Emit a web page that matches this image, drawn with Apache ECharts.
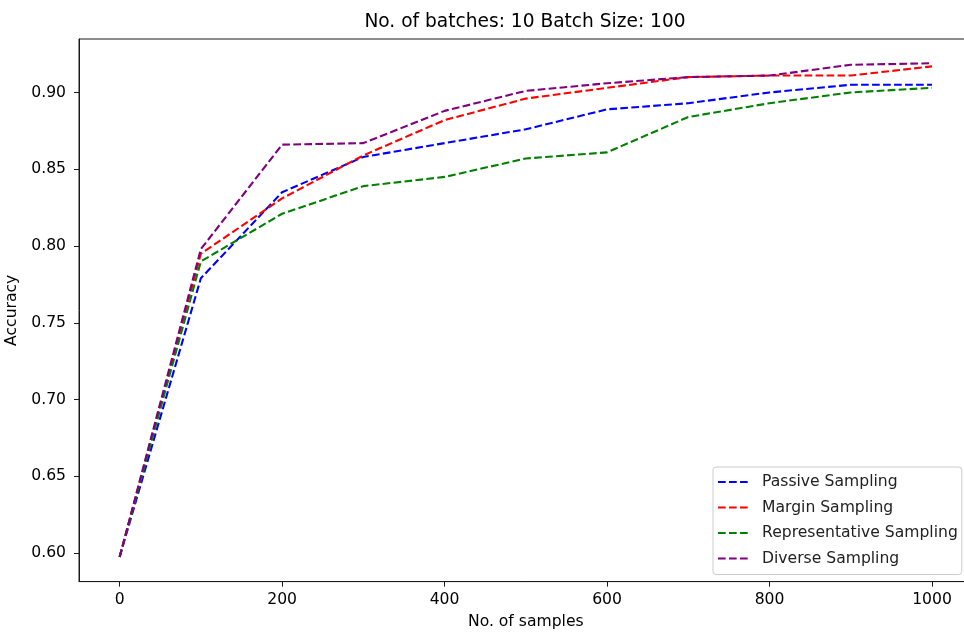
<!DOCTYPE html>
<html>
<head>
<meta charset="utf-8">
<script src="https://cdn.jsdelivr.net/npm/echarts@6/dist/echarts.min.js"></script>
<style>
  html, body { margin: 0; padding: 0; background: #fff; overflow: hidden; }
  /* canvas is a little wider than the window so the right spine sits just past the edge */
  #chart { width: 990px; height: 637px; }
</style>
</head>
<body>
<div id="chart"></div>
<script>
// Number of labelled samples after each batch
const samples = [0, 100, 200, 300, 400, 500, 600, 700, 800, 900, 1000];

// Accuracy per sampling strategy
const passive        = [0.5975, 0.779, 0.835, 0.858, 0.867, 0.876, 0.889, 0.893, 0.900, 0.905, 0.905];
const margin         = [0.5975, 0.795, 0.831, 0.859, 0.882, 0.896, 0.903, 0.910, 0.911, 0.911, 0.917];
const representative = [0.5975, 0.790, 0.821, 0.839, 0.845, 0.857, 0.861, 0.884, 0.893, 0.900, 0.903];
const diverse        = [0.5975, 0.798, 0.866, 0.867, 0.888, 0.901, 0.906, 0.910, 0.911, 0.918, 0.919];

const seriesNames = ['Passive Sampling', 'Margin Sampling', 'Representative Sampling', 'Diverse Sampling'];

// Tick labels
const xTicks = [0, 200, 400, 600, 800, 1000];
const yTicks = [0.60, 0.65, 0.70, 0.75, 0.80, 0.85, 0.90];

const FONT = 'DejaVu Sans';
const FS = 15.6;
const SPINE = '#1a1a1a';
const colors = ['#0000ff', '#ff0000', '#008000', '#800080'];

function pairs(ys) { return samples.map((x, i) => [x, ys[i]]); }

function lineSeries(name, ys, color) {
  return {
    name: name,
    type: 'line',
    data: pairs(ys),
    symbol: 'none',
    showSymbol: false,
    color: color,
    lineStyle: { color: color, width: 2.1, type: [7.7, 3.3], cap: 'butt' },
    emphasis: { disabled: true }
  };
}

const chart = echarts.init(document.getElementById('chart'), null, { renderer: 'canvas' });

chart.setOption({
  animation: false,
  backgroundColor: '#ffffff',
  title: {
    text: 'No. of batches: 10 Batch Size: 100',
    left: 520,
    textAlign: 'center',
    top: 8,
    textStyle: { fontFamily: FONT, fontSize: 18.6, fontWeight: 'normal', color: '#000' }
  },
  grid: {
    left: 79, top: 39, width: 893.6, height: 542.6,
    containLabel: false,
    outerBoundsMode: 'none',
    show: true, borderColor: SPINE, borderWidth: 1, backgroundColor: 'transparent'
  },
  legend: {
    orient: 'vertical',
    left: 713, top: 467,
    data: seriesNames,
    itemWidth: 32, itemHeight: 14, itemGap: 9.5,
    padding: [7, 4, 8, 4],
    backgroundColor: 'rgba(255,255,255,0.8)',
    borderColor: '#cccccc', borderWidth: 1, borderRadius: 3,
    itemStyle: { color: 'transparent', borderColor: 'transparent', borderWidth: 0, opacity: 0 },
    textStyle: { fontFamily: FONT, fontSize: FS, color: '#222', padding: [0, 0, 0, 7] }
  },
  xAxis: {
    type: 'value',
    min: -50, max: 1050,
    name: 'No. of samples',
    nameLocation: 'middle',
    nameGap: 32,
    nameTextStyle: { fontFamily: FONT, fontSize: FS, color: '#000' },
    splitLine: { show: false },
    axisLine: { show: true, onZero: false, lineStyle: { color: SPINE, width: 1 } },
    axisTick: { show: true, length: 5, lineStyle: { color: SPINE }, customValues: xTicks },
    axisLabel: {
      fontFamily: FONT, fontSize: FS, color: '#000', margin: 10,
      customValues: xTicks,
      formatter: v => String(v)
    }
  },
  yAxis: {
    type: 'value',
    min: 0.5815, max: 0.9348,
    name: 'Accuracy',
    nameLocation: 'middle',
    nameGap: 52,
    nameTextStyle: { fontFamily: FONT, fontSize: FS, color: '#000' },
    splitLine: { show: false },
    axisLine: { show: true, onZero: false, lineStyle: { color: SPINE, width: 1 } },
    axisTick: { show: true, length: 5, lineStyle: { color: SPINE }, customValues: yTicks },
    axisLabel: {
      fontFamily: FONT, fontSize: FS, color: '#000', margin: 13,
      customValues: yTicks,
      formatter: v => Number(v).toFixed(2)
    }
  },
  series: [
    lineSeries(seriesNames[0], passive, colors[0]),
    lineSeries(seriesNames[1], margin, colors[1]),
    lineSeries(seriesNames[2], representative, colors[2]),
    lineSeries(seriesNames[3], diverse, colors[3])
  ]
});
</script>
</body>
</html>
